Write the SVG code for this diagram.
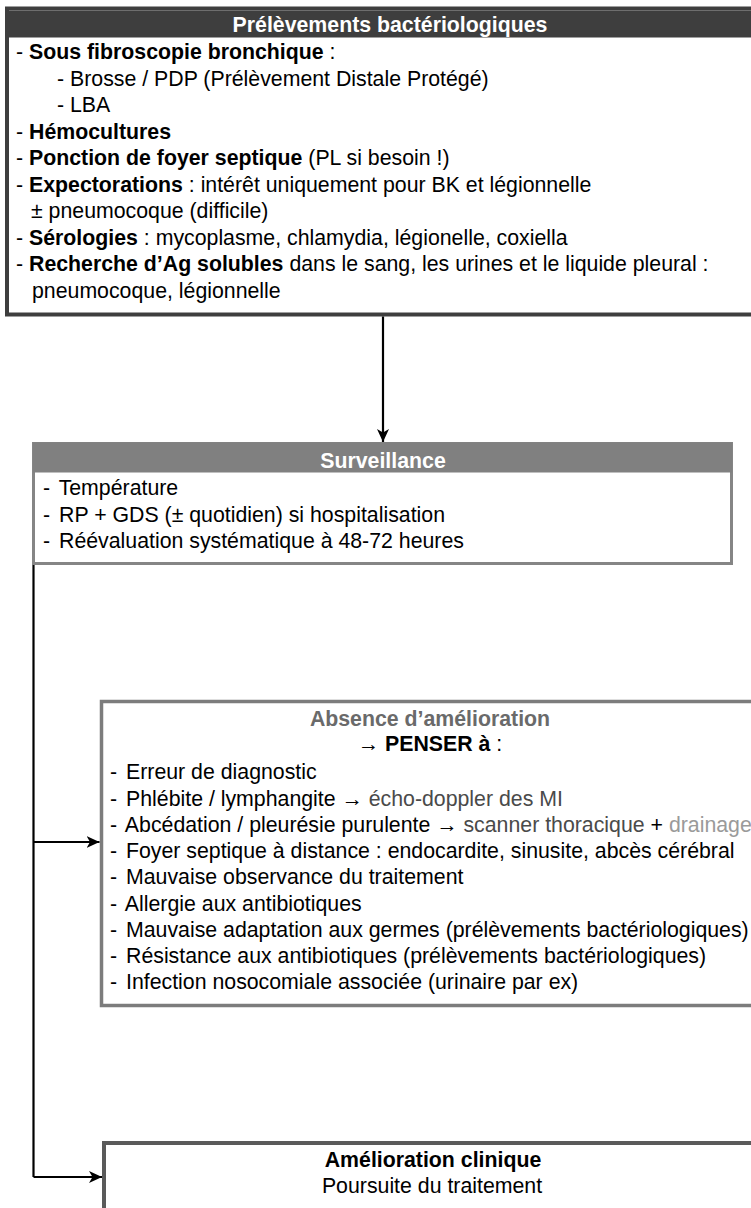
<svg xmlns="http://www.w3.org/2000/svg" width="751" height="1208" viewBox="0 0 751 1208">
  <style>
    text { font-family: "Liberation Sans", Arial, Helvetica, sans-serif; font-size: 21.3px; fill: #000; }
    .b { font-weight: bold; }
    .hdr { font-weight: bold; fill: #fff; text-anchor: middle; }
    .c { text-anchor: middle; }
    .g1 { fill: #4a4a4a; }
    .g2 { fill: #9a9a9a; }
    .gt { fill: #6a6a6a; font-weight: bold; }
    .conn { fill: none; stroke: #000; stroke-width: 2.2; }
  </style>
  <defs>
    <marker id="arr" markerUnits="userSpaceOnUse" markerWidth="14" markerHeight="12" refX="13" refY="6" orient="auto">
      <path d="M0,0 L13,6 L0,12 L3.5,6 Z" fill="#000"/>
    </marker>
  </defs>
  <rect width="751" height="1208" fill="#fff"/>

  <g id="node-prelevements">
    <rect x="7" y="8.5" width="790" height="306" fill="#fff" stroke="#3e3e3e" stroke-width="4"/>
    <rect x="9" y="10.5" width="790" height="27" fill="#3e3e3e"/>
    <text class="hdr" x="390" y="32">Prélèvements bactériologiques</text>
    <text x="16" y="59">- <tspan class="b">Sous fibroscopie bronchique</tspan> :</text>
    <text x="57" y="85.5">- Brosse / PDP (Prélèvement Distale Protégé)</text>
    <text x="57" y="112">- LBA</text>
    <text x="16" y="138.5">- <tspan class="b">Hémocultures</tspan></text>
    <text x="16" y="165">- <tspan class="b">Ponction de foyer septique</tspan> (PL si besoin !)</text>
    <text x="16" y="191.5">- <tspan class="b">Expectorations</tspan> : intérêt uniquement pour BK et légionnelle</text>
    <text x="31" y="218">± pneumocoque (difficile)</text>
    <text x="16" y="244.5">- <tspan class="b">Sérologies</tspan> : mycoplasme, chlamydia, légionelle, coxiella</text>
    <text x="16" y="271">- <tspan class="b">Recherche d’Ag solubles</tspan> dans le sang, les urines et le liquide pleural :</text>
    <text x="32" y="297.5">pneumocoque, légionnelle</text>
  </g>

  <g id="node-surveillance">
    <rect x="33.5" y="443.5" width="698" height="120" fill="#fff" stroke="#858585" stroke-width="3"/>
    <rect x="33" y="442.5" width="699" height="30" fill="#808080"/>
    <text class="hdr" x="383" y="468">Surveillance</text>
    <text x="43" y="495">- <tspan dx="3">Température</tspan></text>
    <text x="43" y="521.5">- <tspan dx="3">RP + GDS (± quotidien) si hospitalisation</tspan></text>
    <text x="43" y="548">- <tspan dx="3">Réévaluation systématique à 48-72 heures</tspan></text>
  </g>

  <g id="node-absence">
    <rect x="101.5" y="701.5" width="700" height="304" fill="#fff" stroke="#7c7c7c" stroke-width="3.5"/>
    <text class="c gt" x="430" y="726">Absence d’amélioration</text>
    <text class="c" x="430" y="750.5">→ <tspan class="b">PENSER à</tspan> :</text>
    <text x="110" y="779.2">- <tspan dx="3">Erreur de diagnostic</tspan></text>
    <text x="110" y="805.5">- <tspan dx="3">Phlébite / lymphangite → </tspan><tspan class="g1">écho-doppler des MI</tspan></text>
    <text x="110" y="831.8">- <tspan dx="3">Abcédation / pleurésie purulente → </tspan><tspan class="g1">scanner thoracique</tspan> + <tspan class="g2">drainage</tspan></text>
    <text x="110" y="858.1">- <tspan dx="3">Foyer septique à distance : endocardite, sinusite, abcès cérébral</tspan></text>
    <text x="110" y="884.4">- <tspan dx="3">Mauvaise observance du traitement</tspan></text>
    <text x="110" y="910.7">- <tspan dx="3">Allergie aux antibiotiques</tspan></text>
    <text x="110" y="937">- <tspan dx="3">Mauvaise adaptation aux germes (prélèvements bactériologiques)</tspan></text>
    <text x="110" y="963.3">- <tspan dx="3">Résistance aux antibiotiques (prélèvements bactériologiques)</tspan></text>
    <text x="110" y="989.3">- <tspan dx="3">Infection nosocomiale associée (urinaire par ex)</tspan></text>
  </g>

  <g id="node-amelioration">
    <rect x="104" y="1143" width="700" height="120" fill="#fff" stroke="#5a5a5a" stroke-width="4"/>
    <text class="c b" x="433" y="1167">Amélioration clinique</text>
    <text class="c" x="432" y="1193">Poursuite du traitement</text>
  </g>

  <g id="connectors">
    <line class="conn" x1="383" y1="316.5" x2="383" y2="442" marker-end="url(#arr)"/>
    <path class="conn" d="M33.5,565 L33.5,1177"/>
    <line class="conn" x1="33.5" y1="842" x2="99.5" y2="842" marker-end="url(#arr)"/>
    <line class="conn" x1="33.5" y1="1177" x2="102" y2="1177" marker-end="url(#arr)"/>
  </g>
</svg>
